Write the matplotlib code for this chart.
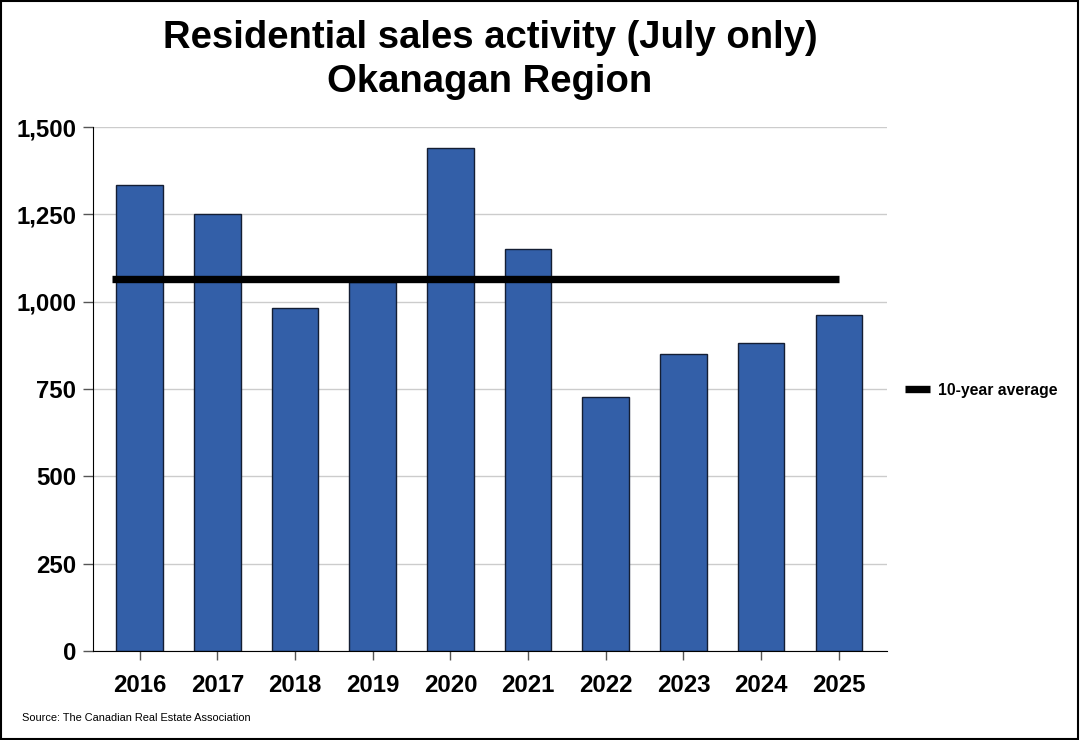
import matplotlib
matplotlib.use("Agg")
import matplotlib.pyplot as plt
from matplotlib.patches import Rectangle
from matplotlib.ticker import FuncFormatter

years = ["2016", "2017", "2018", "2019", "2020", "2021", "2022", "2023", "2024", "2025"]
sales = [1334, 1250, 982, 1055, 1440, 1151, 728, 850, 881, 962]
ten_year_avg = 1065

plt.rcParams['font.family'] = ['Liberation Sans', 'DejaVu Sans']

fig = plt.figure(figsize=(10.8, 7.4), dpi=100)
ax = fig.add_axes([93/1080, 89/740, (887-93)/1080, (651-127)/740])

x = list(range(len(years)))
ax.bar(x, sales, width=0.6, color="#335FA8", edgecolor="#141e33", linewidth=1.0, zorder=2)
ax.plot([-0.35, 9.0], [ten_year_avg, ten_year_avg], color="black", linewidth=5.3,
        solid_capstyle="butt", zorder=3, label="10-year average")

ax.set_xlim(-0.6, 9.62)
ax.set_ylim(0, 1500)
ax.set_yticks([0, 250, 500, 750, 1000, 1250, 1500])
ax.yaxis.set_major_formatter(FuncFormatter(lambda v, p: f"{int(v):,}"))
ax.set_xticks(x)
ax.set_xticklabels(years)
ax.grid(axis="y", color="#cccccc", linewidth=1, zorder=0)
ax.set_axisbelow(True)
for s in ["top", "right"]:
    ax.spines[s].set_visible(False)
ax.spines["left"].set_color("black")
ax.spines["bottom"].set_color("black")
ax.tick_params(axis="y", length=7.2, width=1, color="#555555", labelsize=17.3, pad=5)
ax.tick_params(axis="x", length=6.5, width=1, color="#555555", labelsize=17.3, pad=10.2)
for lab in ax.get_xticklabels() + ax.get_yticklabels():
    lab.set_fontweight("bold")

fig.text(490/1080, 1 - 38/740, "Residential sales activity (July only)", ha="center", va="center",
         fontsize=27.5, fontweight="bold")
fig.text(490/1080, 1 - 82/740, "Okanagan Region", ha="center", va="center",
         fontsize=27.5, fontweight="bold")

leg = ax.legend(loc="center left", bbox_to_anchor=(1.0227, 0.498), frameon=False,
                prop={"weight": "bold", "size": 11.3}, handlelength=1.6, handletextpad=0.5,
                borderaxespad=0, borderpad=0)

fig.text(22/1080, 1 - 718/740, "Source: The Canadian Real Estate Association", ha="left", va="center",
         fontsize=7.9)

fig.patches.append(Rectangle((0.0005, 0.0007), 0.998, 0.998, transform=fig.transFigure,
                             fill=False, edgecolor="black", linewidth=1.5))

fig.savefig("out.png", dpi=100)
